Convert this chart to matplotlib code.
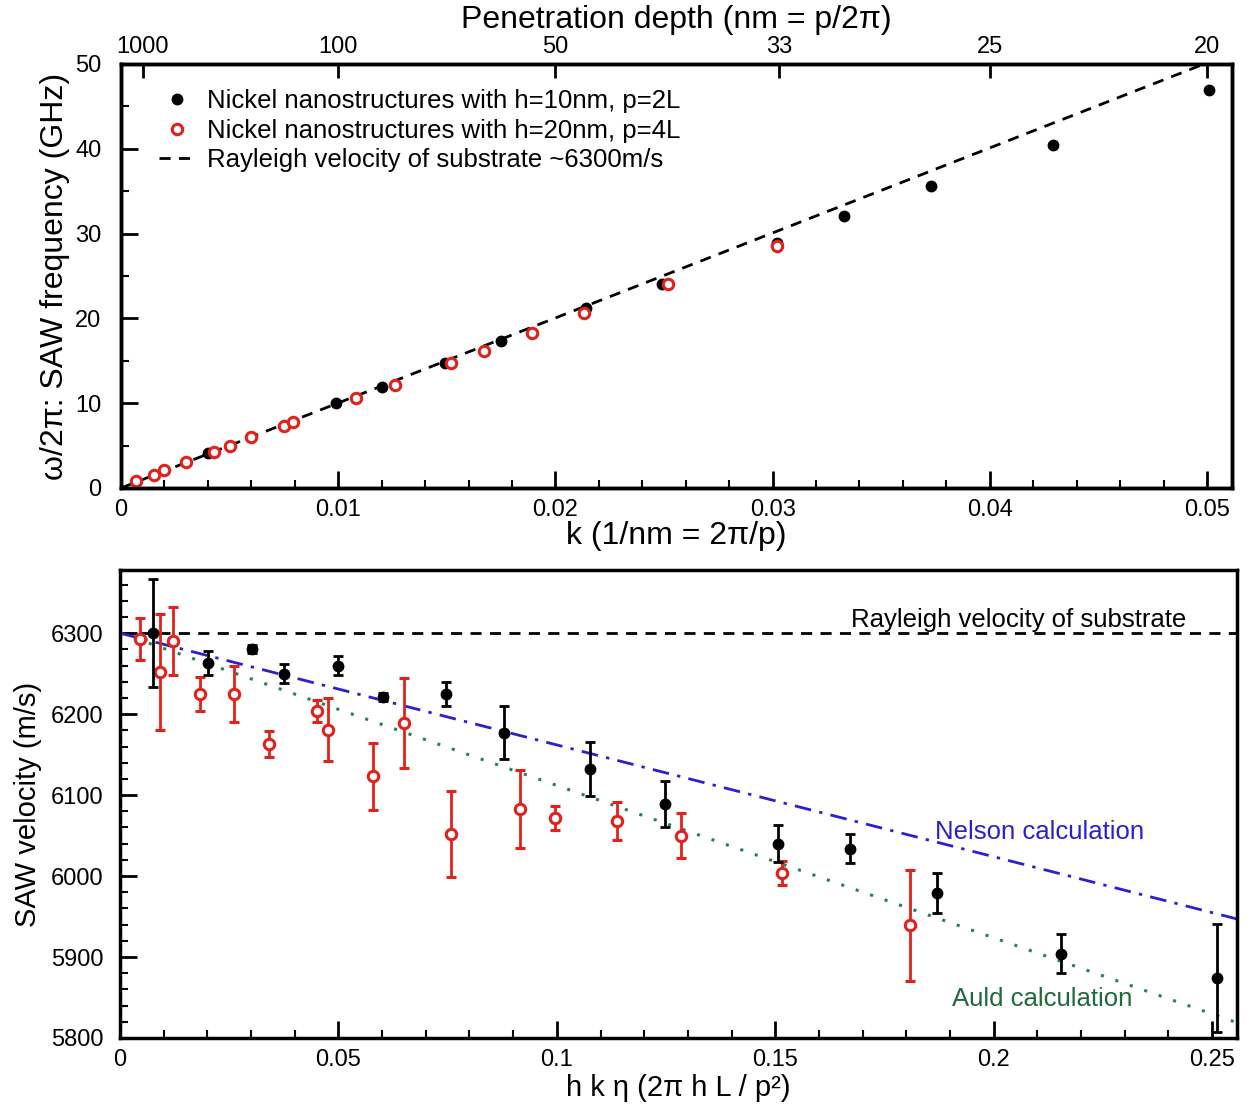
import matplotlib
matplotlib.use("Agg")
import matplotlib.pyplot as plt
import numpy as np
from matplotlib.ticker import MultipleLocator

plt.rcParams['font.family'] = ['Liberation Sans', 'DejaVu Sans']

# ---------------- data: top panel (dispersion) ----------------
top_black_k = [0.0040, 0.0099, 0.0120, 0.0149, 0.0175, 0.0214, 0.0249, 0.0302,
               0.0333, 0.0373, 0.0429, 0.0501]
top_black_f = [4.1, 10.0, 11.9, 14.7, 17.3, 21.2, 24.1, 28.9, 32.1, 35.6, 40.4, 46.9]

top_red_k = [0.0007, 0.0015, 0.0020, 0.0030, 0.0043, 0.0050, 0.0060, 0.0075, 0.0079,
             0.0108, 0.0126, 0.0152, 0.0167, 0.0189, 0.0213, 0.0252, 0.0302]
top_red_f = [0.8, 1.5, 2.1, 3.1, 4.3, 4.9, 6.0, 7.3, 7.8,
             10.6, 12.1, 14.7, 16.2, 18.3, 20.6, 24.1, 28.5]

rayleigh_velocity = 6300.0  # m/s
depth_labels = ["1000", "100", "50", "33", "25", "20"]
depth_values = [1000, 100, 50, 33, 25, 20]

# ---------------- data: bottom panel (velocity) ----------------
bot_black_x = [0.0076, 0.0202, 0.0303, 0.0376, 0.0499, 0.0602, 0.0746, 0.0880,
               0.1077, 0.1248, 0.1506, 0.1670, 0.1871, 0.2155, 0.2512]
bot_black_v = [6300, 6263, 6280, 6250, 6260, 6221, 6225, 6177,
               6132, 6089, 6040, 6034, 5979, 5904, 5874]
bot_black_err = [67, 15, 5, 12, 12, 5, 15, 33, 33, 28, 23, 18, 25, 24, 67]

bot_red_x = [0.0046, 0.0092, 0.0122, 0.0182, 0.0261, 0.0342, 0.0450, 0.0477, 0.0580,
             0.0650, 0.0757, 0.0916, 0.0995, 0.1138, 0.1285, 0.1516, 0.1809]
bot_red_v = [6293, 6252, 6290, 6225, 6225, 6163, 6204, 6181, 6123,
             6189, 6052, 6083, 6072, 6068, 6050, 6004, 5939]
bot_red_err = [26, 72, 42, 21, 35, 16, 14, 39, 41, 56, 53, 48, 15, 24, 28, 15, 68]

nelson_x = [0.0, 0.2557]
nelson_v = [6300, 5947]
auld_x = [0.0, 0.2557]
auld_v = [6300, 5819]

RED = '#e3211c'
BLUE = '#2b1fd0'
GREEN = '#2e7d50'
GREEN_TXT = '#1f6a38'

fig = plt.figure(figsize=(12.46, 11.04), dpi=100)

# ================= TOP PANEL =================
ax1 = fig.add_axes([121/1246, 1-488/1104, (1232-121)/1246, (488-64)/1104])
kline = np.array([0.0, 0.0512])
ax1.plot(kline, rayleigh_velocity * kline / (2*np.pi), ls=(0, (4, 3)), color='black',
         lw=2, label='Rayleigh velocity of substrate ~6300m/s', zorder=2)
ax1.plot(top_black_k, top_black_f, 'o', color='black', ms=7.5, zorder=3,
         label='Nickel nanostructures with h=10nm, p=2L')
ax1.plot(top_red_k, top_red_f, 'o', mfc='white', mec=RED, mew=2.2, ms=7.5, zorder=4,
         label='Nickel nanostructures with h=20nm, p=4L')
ax1.set_xlim(0, 0.05115)
ax1.set_ylim(0, 50)
ax1.xaxis.set_minor_locator(MultipleLocator(0.002))
ax1.yaxis.set_minor_locator(MultipleLocator(5))
ax1.set_xticks([0, 0.01, 0.02, 0.03, 0.04, 0.05])
ax1.set_xticklabels(["0", "0.01", "0.02", "0.03", "0.04", "0.05"])
ax1.set_yticks([0, 10, 20, 30, 40, 50])
ax1.tick_params(which='both', direction='in', top=False, right=False, labelsize=17, width=2)
ax1.tick_params(which='major', length=12, pad=8)
ax1.tick_params(which='minor', length=6, width=1.5)
ax1.tick_params(axis='y', pad=14)
for s in ax1.spines.values():
    s.set_linewidth(2.5)
ax1.set_xlabel('k (1/nm = 2π/p)', fontsize=23, labelpad=0)
ax1.set_ylabel('ω/2π: SAW frequency (GHz)', fontsize=23, labelpad=4)

h, l = ax1.get_legend_handles_labels()
order = [1, 2, 0]
ax1.legend([h[i] for i in order], [l[i] for i in order], loc='upper left', frameon=False,
           fontsize=18.5, handlelength=1.4, handletextpad=0.45, labelspacing=0.22,
           borderaxespad=0.0, bbox_to_anchor=(0.025, 0.965))

ax1t = ax1.twiny()
ax1t.set_xlim(ax1.get_xlim())
ax1t.set_xticks([1.0/d for d in depth_values])
ax1t.set_xticklabels(depth_labels)
ax1t.tick_params(which='both', direction='in', labelsize=17, length=10, width=2, pad=4)
ax1t.set_xlabel('Penetration depth (nm = p/2π)', fontsize=23, labelpad=6)
for s in ax1t.spines.values():
    s.set_linewidth(2.5)

# ================= BOTTOM PANEL =================
ax2 = fig.add_axes([120/1246, 1-1038/1104, (1237-120)/1246, (1038-570)/1104])
ax2.axhline(rayleigh_velocity, ls=(0, (4, 3)), color='black', lw=2, zorder=2)
ax2.plot(nelson_x, nelson_v, ls=(0, (6, 3, 1.2, 3)), color=BLUE, lw=2, zorder=2)
ax2.plot(auld_x, auld_v, ls=(0, (1, 4)), color=GREEN, lw=2.2, zorder=2)
ax2.errorbar(bot_black_x, bot_black_v, yerr=bot_black_err, fmt='o', color='black',
             ms=7.5, elinewidth=2, capsize=3.5, capthick=2, zorder=4)
ax2.errorbar(bot_red_x, bot_red_v, yerr=bot_red_err, fmt='o', color=RED, mfc='white',
             mec=RED, mew=2.2, ms=7.5, elinewidth=2, capsize=3.5, capthick=2, zorder=3)
ax2.set_xlim(0, 0.2557)
ax2.set_ylim(5800, 6378)
ax2.xaxis.set_minor_locator(MultipleLocator(0.01))
ax2.yaxis.set_minor_locator(MultipleLocator(20))
ax2.set_xticks([0, 0.05, 0.1, 0.15, 0.2, 0.25])
ax2.set_xticklabels(["0", "0.05", "0.1", "0.15", "0.2", "0.25"])
ax2.set_yticks([5800, 5900, 6000, 6100, 6200, 6300])
ax2.tick_params(which='both', direction='in', top=False, right=False, labelsize=17, width=2)
ax2.tick_params(which='major', length=12, pad=8)
ax2.tick_params(which='minor', length=6, width=1.5)
ax2.tick_params(axis='y', pad=12)
for s in ax2.spines.values():
    s.set_linewidth(2.5)
ax2.set_xlabel('h k η (2π h L / p²)', fontsize=21, labelpad=2)
ax2.set_ylabel('SAW velocity (m/s)', fontsize=21, labelpad=6)

ax2.text(0.244, 6302, 'Rayleigh velocity of substrate', fontsize=18.5, ha='right',
         va='bottom', color='black')
ax2.text(0.2344, 6040, 'Nelson calculation', fontsize=18.5, ha='right', va='bottom',
         color=BLUE)
ax2.text(0.2318, 5833, 'Auld calculation', fontsize=18.5, ha='right', va='bottom',
         color=GREEN_TXT)

fig.savefig('out.png', dpi=100)
